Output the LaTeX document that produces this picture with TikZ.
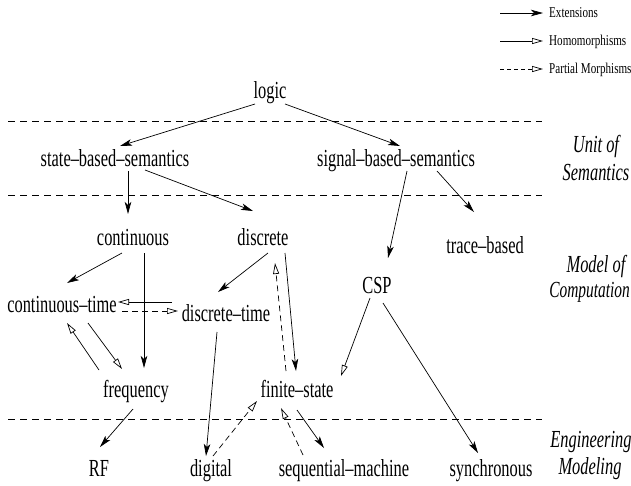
\documentclass[tikz,border=0pt]{standalone}
\usepackage{fontspec}
\setmainfont[FakeStretch=0.67]{Liberation Serif}
\newfontfamily\legfont[FakeStretch=0.74]{Liberation Serif}
\usetikzlibrary{arrows.meta}
\begin{document}
\begin{tikzpicture}[x=1pt,y=-1pt,
  lbl/.style={anchor=base,inner sep=0pt,font=\fontsize{24.5}{24.5}\selectfont},
  lvl/.style={anchor=base,inner sep=0pt,font=\fontsize{24.5}{24.5}\selectfont\itshape},
  leg/.style={anchor=base west,inner sep=0pt,font=\legfont\fontsize{15}{15}\selectfont},
  conn/.style={line width=0.7pt},
  ext/.style={conn,-{Stealth[length=12pt,width=6.5pt,inset=3pt]}},
  hom/.style={conn,-{Triangle[open,length=11pt,width=6pt]}},
  pmor/.style={conn,dash pattern=on 6pt off 4pt,-{Triangle[open,length=11pt,width=6pt]}},
  sep/.style={line width=0.7pt,dash pattern=on 7pt off 5pt}]
\useasboundingbox (0,0) rectangle (631,485);

% legend
\coordinate (l1a) at (500,13); \coordinate (l1b) at (543,13);
\coordinate (l2a) at (500,41); \coordinate (l2b) at (543,41);
\coordinate (l3a) at (500,69); \coordinate (l3b) at (543,69);
\draw[ext] (l1a) -- (l1b);
\draw[hom] (l2a) -- (l2b);
\draw[pmor,dash pattern=on 4pt off 3pt] (l3a) -- (l3b);
\node[leg] (le1) at (549,17) {Extensions};
\node[leg] (le2) at (549,45) {Homomorphisms};
\node[leg] (le3) at (549,73) {Partial Morphisms};

% separators
\coordinate (s1a) at (8,121); \coordinate (s1b) at (542,121);
\coordinate (s2a) at (8,195); \coordinate (s2b) at (542,195);
\coordinate (s3a) at (8,419); \coordinate (s3b) at (542,419);
\draw[sep] (s1a) -- (s1b);
\draw[sep] (s2a) -- (s2b);
\draw[sep] (s3a) -- (s3b);

% level labels
\node[lvl] (u1) at (596,152) {Unit of};
\node[lvl] (u2) at (596,180) {Semantics};
\node[lvl] (m1) at (596,272) {Model of};
\node[lvl,font=\fontsize{23}{23}\selectfont\itshape,anchor=base east] (m2) at (630,297) {Computation};
\node[lvl] (e1) at (591,447) {Engineering};
\node[lvl] (e2) at (590,474) {Modeling};

% nodes
\node[lbl] (logic) at (270,98) {logic};
\node[lbl] (sbs) at (115,166) {state–based–semantics};
\node[lbl] (sig) at (396,166) {signal–based–semantics};
\node[lbl] (cont) at (133,245) {continuous};
\node[lbl] (disc) at (263,245) {discrete};
\node[lbl] (trace) at (485,253) {trace–based};
\node[lbl] (csp) at (377,293) {CSP};
\node[lbl] (ctime) at (62,312) {continuous–time};
\node[lbl] (dtime) at (226,321) {discrete–time};
\node[lbl] (freq) at (136,397) {frequency};
\node[lbl] (fin) at (297,397) {finite–state};
\node[lbl] (rf) at (99,476) {RF};
\node[lbl] (dig) at (211,476) {digital};
\node[lbl] (seq) at (344,476) {sequential–machine};
\node[lbl] (syn) at (491,476) {synchronous};

% connectors
\draw[ext] ([shift={(-15,6)}]logic.base) -- ([shift={(5,-20)}]sbs.base);
\draw[ext] ([shift={(15,6)}]logic.base) -- ([shift={(4,-20)}]sig.base);
\draw[ext] ([shift={(13,5)}]sbs.base) -- ([shift={(-5,-31)}]cont.base);
\draw[ext] ([shift={(30,4)}]sbs.base) -- ([shift={(-10,-34)}]disc.base);
\draw[ext] ([shift={(11,5)}]sig.base) -- ([shift={(11,-35)}]csp.base);
\draw[ext] ([shift={(41,5)}]sig.base) -- ([shift={(-11,-41)}]trace.base);
\draw[ext] ([shift={(-11,8)}]cont.base) -- ([shift={(5,-29)}]ctime.base);
\draw[ext] ([shift={(11,8)}]cont.base) -- ([shift={(8,-29)}]freq.base);
\draw[ext] ([shift={(5,8)}]disc.base) -- ([shift={(-8,-29)}]dtime.base);
\draw[ext] ([shift={(22,8)}]disc.base) -- ([shift={(-1,-26)}]fin.base);
\draw[pmor] ([shift={(-11,-26)}]fin.base) -- ([shift={(12,18)}]disc.base);
\draw[hom] ([shift={(-54,-19)}]dtime.base) -- ([shift={(56,-10)}]ctime.base);
\draw[pmor] ([shift={(60,-1)}]ctime.base) -- ([shift={(-48,-10)}]dtime.base);
\draw[hom] ([shift={(-37,-27)}]freq.base) -- ([shift={(5,11)}]ctime.base);
\draw[hom] ([shift={(26,11)}]ctime.base) -- ([shift={(-14,-28)}]freq.base);
\draw[ext] ([shift={(-3,12)}]freq.base) -- ([shift={(1,-29)}]rf.base);
\draw[ext] ([shift={(-9,11)}]dtime.base) -- ([shift={(-5,-20)}]dig.base);
\draw[pmor] ([shift={(2,-20)}]dig.base) -- ([shift={(-40,4)}]fin.base);
\draw[pmor] ([shift={(-41,-21)}]seq.base) -- ([shift={(-16,11)}]fin.base);
\draw[ext] ([shift={(0,13)}]fin.base) -- ([shift={(-20,-28)}]seq.base);
\draw[hom] ([shift={(-7,5)}]csp.base) -- ([shift={(44,-21)}]fin.base);
\draw[ext] ([shift={(6,10)}]csp.base) -- ([shift={(-13,-23)}]syn.base);
\end{tikzpicture}
\end{document}
